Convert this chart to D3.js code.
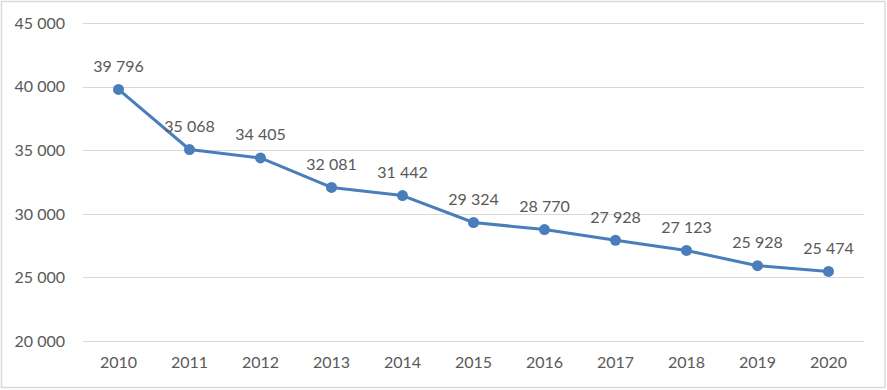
<!DOCTYPE html>
<html><head><meta charset="utf-8">
<script src="https://cdn.jsdelivr.net/npm/d3@7"></script>
<style>body{margin:0;background:#fff}svg{display:block}</style>
</head><body>
<svg id="c" width="887" height="390"></svg>
<script>
const years = ["2010","2011","2012","2013","2014","2015","2016","2017","2018","2019","2020"];
const values = [39796,35068,34405,32081,31442,29324,28770,27928,27123,25928,25474];
const yTicks = [20000,25000,30000,35000,40000,45000];

const svg = d3.select("#c");
const W = 887, H = 390;
const m = {left:83, right:23, top:23.3, bottom:49};
const fontFam = "Lato, 'Open Sans', sans-serif";
const txt = "#595959";
const fs = 16;

svg.append("rect").attr("x",1.5).attr("y",1.5).attr("width",W-3.5).attr("height",H-4)
  .attr("fill","#fff").attr("stroke","#d9d9d9").attr("stroke-width",1.5);

const x = d3.scaleBand().domain(years).range([m.left, W-m.right]);
const y = d3.scaleLinear().domain([20000,45000]).range([341, 23.3]);
const loc = d3.formatLocale({decimal:",", thousands:"\u00a0", grouping:[3], currency:["",""]});
const fmt = loc.format(",d");

svg.append("g").selectAll("line").data(yTicks).join("line")
  .attr("x1",m.left).attr("x2",W-m.right)
  .attr("y1",d=>Math.round(y(d))+0.5).attr("y2",d=>Math.round(y(d))+0.5)
  .attr("stroke","#d9d9d9").attr("stroke-width",1);

const yAxis = d3.axisLeft(y).tickValues(yTicks).tickFormat(fmt).tickSize(0).tickPadding(18);
const gy = svg.append("g").attr("transform",`translate(${m.left},0)`).call(yAxis);
gy.select(".domain").remove();
gy.selectAll("text").attr("fill",txt).attr("font-size",fs).attr("font-family",fontFam);

const xAxis = d3.axisBottom(x).tickSize(0).tickPadding(16);
const gx = svg.append("g").attr("transform",`translate(0,341)`).call(xAxis);
gx.select(".domain").remove();
gx.selectAll("text").attr("fill",txt).attr("font-size",fs).attr("font-family",fontFam);

const cx = d => x(d) + x.bandwidth()/2;
const line = d3.line().x((d,i)=>cx(years[i])).y(d=>y(d));
svg.append("path").datum(values).attr("d",line).attr("fill","none")
  .attr("stroke","#4a7ebb").attr("stroke-width",3).attr("stroke-linejoin","round");

svg.append("g").selectAll("circle").data(values).join("circle")
  .attr("cx",(d,i)=>cx(years[i])).attr("cy",d=>y(d)).attr("r",5.5)
  .attr("fill","#4a7ebb");

svg.append("g").selectAll("text").data(values).join("text")
  .attr("x",(d,i)=>cx(years[i])).attr("y",d=>y(d)-24)
  .attr("text-anchor","middle").attr("dominant-baseline","central")
  .attr("fill",txt).attr("font-size",fs).attr("font-family",fontFam)
  .text(d=>fmt(d));
</script>
</body></html>
